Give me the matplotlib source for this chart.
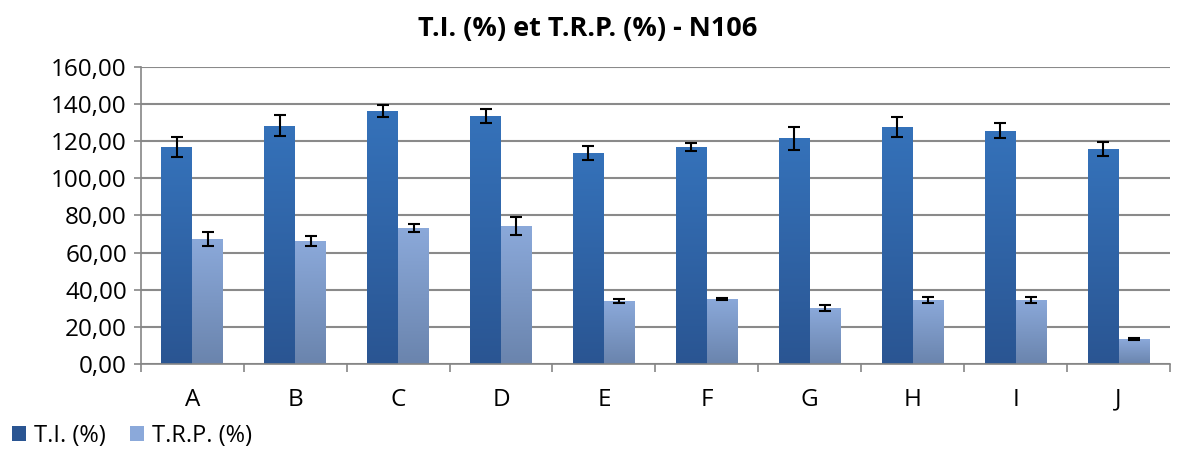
import numpy as np
import matplotlib
matplotlib.use('Agg')
import matplotlib.pyplot as plt
from matplotlib.ticker import FuncFormatter
from matplotlib.patches import Patch

plt.rcParams['font.family'] = ['Open Sans', 'DejaVu Sans']

categories = ['A', 'B', 'C', 'D', 'E', 'F', 'G', 'H', 'I', 'J']
ti = [116.8, 128.2, 136.2, 133.6, 113.6, 116.8, 121.6, 127.6, 125.5, 115.8]
ti_err = [5.5, 5.6, 3.1, 3.9, 3.7, 2.0, 6.2, 5.6, 4.0, 3.9]
trp = [67.2, 66.2, 73.1, 74.2, 33.8, 35.0, 30.1, 34.4, 34.5, 13.4]
trp_err = [3.7, 2.7, 2.0, 4.8, 1.1, 0.5, 1.6, 1.6, 1.6, 0.5]

ti_colors = ('#3572ba', '#2a5592')
trp_colors = ('#8ba9da', '#6a84ad')


def grad_bars(ax, bars, top, bottom):
    # vertical gradient inside each bar
    cmap = matplotlib.colors.LinearSegmentedColormap.from_list('g', [bottom, top])
    grad = np.linspace(0, 1, 256).reshape(-1, 1)
    for b in bars:
        x0, y0 = b.get_x(), b.get_y()
        w, h = b.get_width(), b.get_height()
        im = ax.imshow(grad, cmap=cmap, aspect='auto', origin='lower',
                       extent=[x0, x0 + w, y0, y0 + h], zorder=2)
        im.set_clip_path(b)
        b.set_facecolor('none')


fig, ax = plt.subplots(figsize=(11.83, 4.51), dpi=100)
fig.subplots_adjust(left=0.119, right=0.989, top=0.852, bottom=0.193)

x = np.arange(len(categories))
w = 0.3
b1 = ax.bar(x - w / 2, ti, w, color=ti_colors[0], zorder=2, linewidth=0)
b2 = ax.bar(x + w / 2, trp, w, color=trp_colors[0], zorder=2, linewidth=0)
grad_bars(ax, b1, *ti_colors)
grad_bars(ax, b2, *trp_colors)

ax.errorbar(x - w / 2, ti, yerr=ti_err, fmt='none', ecolor='black',
            elinewidth=1.5, capsize=4.5, capthick=1.5, zorder=4)
ax.errorbar(x + w / 2, trp, yerr=trp_err, fmt='none', ecolor='black',
            elinewidth=1.5, capsize=4.5, capthick=1.5, zorder=4)

ax.set_xlim(-0.5, len(categories) - 0.5)
ax.set_ylim(0, 160)
ax.set_yticks(np.arange(0, 161, 20))
ax.yaxis.set_major_formatter(FuncFormatter(lambda v, p: f'{v:.2f}'.replace('.', ',')))
ax.set_xticks(x)
ax.set_xticklabels(categories)
ax.set_xticks(np.arange(-0.5, len(categories), 1), minor=True)
ax.tick_params(axis='x', which='major', length=0, labelsize=17.5, pad=17)
ax.tick_params(axis='x', which='minor', length=6, color='#868686', width=1.2)
ax.tick_params(axis='y', length=5, color='#868686', width=1.2, labelsize=17.5, pad=5)

ax.grid(axis='y', color='#8a8a8a', linewidth=1.5, zorder=0)
ax.set_axisbelow(True)
for s in ['top', 'right']:
    ax.spines[s].set_visible(False)
for s in ['left', 'bottom']:
    ax.spines[s].set_color('#868686')
    ax.spines[s].set_linewidth(1.2)

# title centred on the whole figure, not on the axes
fig.suptitle('T.I. (%) et T.R.P. (%) - N106', x=0.497, y=0.965, fontsize=19.5,
             fontweight='bold', va='top')

handles = [Patch(facecolor=ti_colors[1], label='T.I. (%)'),
           Patch(facecolor=trp_colors[0], label='T.R.P. (%)')]
fig.legend(handles=handles, loc='lower left', bbox_to_anchor=(-0.002, -0.025), ncol=2,
           frameon=False, fontsize=17, handlelength=0.6, handleheight=0.6,
           handletextpad=0.35, columnspacing=1.0, borderaxespad=0.2)

fig.savefig('out.png', dpi=100)
